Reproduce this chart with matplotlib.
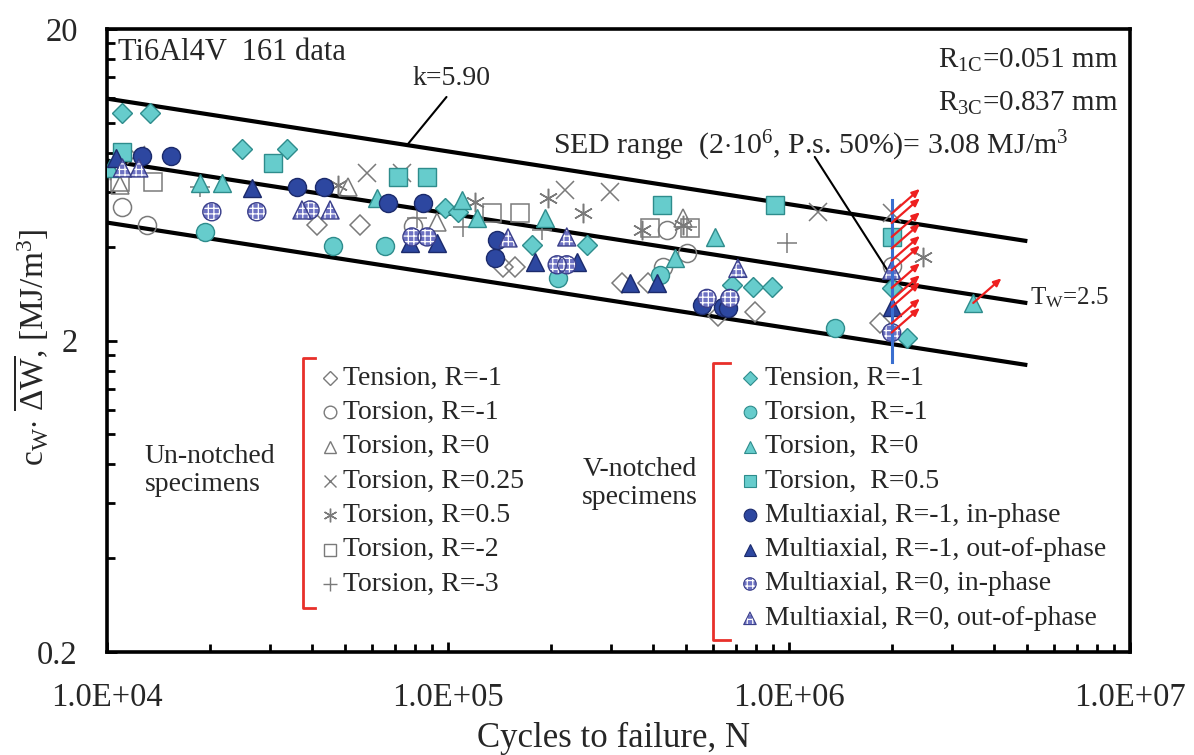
import numpy as np
import matplotlib
matplotlib.use('Agg')
import matplotlib.pyplot as plt
from matplotlib.ticker import FuncFormatter, FixedLocator, LogLocator, NullFormatter

plt.rcParams['font.family'] = ['Liberation Serif', 'DejaVu Serif']
plt.rcParams['mathtext.fontset'] = 'custom'
plt.rcParams['mathtext.rm'] = 'Liberation Serif'
plt.rcParams['mathtext.it'] = 'Liberation Serif:italic'
plt.rcParams['mathtext.bf'] = 'Liberation Serif:bold'
plt.rcParams['hatch.linewidth'] = 0.9

TXT = '#262626'

# ---- un-notched specimens (open grey symbols) ----
un_tens_m1_N = [4.13e4, 5.52e4, 1.45e5, 1.57e5, 3.24e5, 3.86e5, 6.19e5, 7.95e5, 1.85e6]
un_tens_m1_W = [4.69, 4.69, 3.44, 3.44, 3.06, 3.06, 2.40, 2.47, 2.27]
un_tors_m1_N = [1.11e4, 1.31e4, 7.9e4, 4.39e5, 5.02e5, 4.27e5, 2.0e6]
un_tors_m1_W = [5.37, 4.69, 4.67, 4.53, 3.82, 3.44, 3.47]
un_tors_0_N = [1.09e4, 5.09e4, 9.29e4, 4.89e5]
un_tors_0_W = [6.31, 6.23, 4.80, 4.94]
un_tors_025_N = [1.22e4, 5.79e4, 7.33e4, 2.2e5, 2.99e5, 1.22e6, 2.0e6]
un_tors_025_W = [7.88, 6.90, 6.90, 6.08, 5.99, 5.18, 5.13]
un_tors_05_N = [1.02e4, 4.76e4, 1.2e5, 1.96e5, 2.49e5, 3.71e5, 4.89e5, 2.47e6]
un_tors_05_W = [7.03, 6.31, 5.57, 5.72, 5.13, 4.53, 4.69, 3.71]
un_tors_m2_N = [1.09e4, 1.36e4, 1.35e5, 1.63e5, 3.91e5, 5.13e5]
un_tors_m2_W = [6.46, 6.46, 5.13, 5.13, 4.60, 4.60]
un_tors_m3_N = [1.87e4, 8.11e4, 1.11e5, 1.89e5, 5.02e5, 9.87e5]
un_tors_m3_W = [6.23, 4.94, 4.63, 4.53, 4.63, 4.11]

# ---- V-notched specimens ----
v_tens_m1_N = [1.11e4, 1.34e4, 2.49e4, 3.37e4, 9.8e4, 1.07e5, 1.76e5, 2.56e5,
               6.8e5, 7.84e5, 8.92e5, 2.0e6, 2.22e6]
v_tens_m1_W = [10.75, 10.75, 8.24, 8.24, 5.32, 5.18, 4.06, 4.06, 3.02, 2.97, 2.97, 2.95, 2.03]
v_tors_m1_N = [1.94e4, 4.6e4, 6.53e4, 2.1e5, 4.19e5, 1.36e6]
v_tors_m1_W = [4.46, 4.02, 4.02, 3.18, 3.25, 2.20]
v_tors_0_N = [1.02e4, 1.87e4, 2.17e4, 6.19e4, 1.1e5, 1.22e5, 1.92e5, 4.63e5, 6.07e5, 3.47e6]
v_tors_0_W = [7.16, 6.41, 6.41, 5.72, 5.65, 4.94, 4.94, 3.68, 4.30, 2.64]
v_tors_05_N = [1.11e4, 3.07e4, 7.13e4, 8.68e4, 4.24e5, 9.1e5, 2.0e6]
v_tors_05_W = [8.06, 7.43, 6.70, 6.70, 5.44, 5.44, 4.30]
mx_m1_in_N = [1.27e4, 1.54e4, 3.61e4, 4.33e4, 6.67e4, 8.45e4, 1.39e5, 1.37e5, 5.56e5, 6.4e5, 6.62e5]
mx_m1_in_W = [7.82, 7.82, 6.23, 6.23, 5.52, 5.52, 4.21, 3.68, 2.60, 2.56, 2.54]
mx_m1_out_N = [1.06e4, 2.66e4, 7.74e4, 9.29e4, 1.8e5, 2.39e5, 3.42e5, 4.1e5, 2.0e6]
mx_m1_out_W = [7.71, 6.18, 4.11, 4.11, 3.58, 3.58, 3.06, 3.06, 2.56]
mx_0_in_N = [2.03e4, 2.75e4, 3.94e4, 7.84e4, 8.68e4, 2.09e5, 2.23e5, 5.75e5, 6.71e5, 2.0e6]
mx_0_in_W = [5.18, 5.18, 5.25, 4.30, 4.30, 3.50, 3.50, 2.73, 2.73, 2.12]
mx_0_out_N = [1.11e4, 1.24e4, 3.73e4, 4.51e4, 1.5e5, 2.23e5, 7.08e5, 2.0e6]
mx_0_out_W = [7.16, 7.16, 5.25, 5.25, 4.27, 4.30, 3.41, 3.36]

# run-outs (arrows)
runout_N = [2.0e6] * 11 + [3.47e6]
runout_W = [5.11, 4.77, 4.30, 3.95, 3.61, 3.36, 2.95, 2.70, 2.56, 2.27, 2.12, 2.64]

# scatter band
k_slope = 5.90
W_50 = 3.08       # MJ/m3 at N_A
N_A = 2e6
T_W = 2.5
band_N = np.array([1e4, 5e6])

CYAN, CYAN_E = '#66CCCC', '#2E8C8C'
NAVY, NAVY_E = '#2D47A0', '#1B2A6B'
PAT, PAT_E = '#6D72C2', '#3A3F8A'
GREY = '#7A7A7A'

fig = plt.figure(figsize=(11.94, 7.55), dpi=100)
ax = fig.add_axes([0.0896, 0.1364, 0.8568, 0.8252])
ax.set_xscale('log')
ax.set_yscale('log')
ax.set_xlim(1e4, 1e7)
ax.set_ylim(0.2, 20)

# band lines
W_mid = W_50 * (band_N / N_A) ** (-1.0 / k_slope)
for f in (np.sqrt(T_W), 1.0, 1.0 / np.sqrt(T_W)):
    ax.plot(band_N, W_mid * f, color='black', lw=3.0, zorder=2, solid_capstyle='butt')

# open symbols
open_series = [
    (un_tens_m1_N, un_tens_m1_W, 'D', 10.5),
    (un_tors_m1_N, un_tors_m1_W, 'o', 13),
    (un_tors_0_N, un_tors_0_W, '^', 13),
    (un_tors_025_N, un_tors_025_W, 'x', 13),
    (un_tors_05_N, un_tors_05_W, (6, 2, 0), 14),
    (un_tors_m2_N, un_tors_m2_W, 's', 12.5),
    (un_tors_m3_N, un_tors_m3_W, '+', 14),
]
for n, w, m, ms in open_series:
    ax.plot(n, w, ls='none', marker=m, ms=ms, mfc='none', mec=GREY, mew=1.1, zorder=3)

# filled symbols
filled_series = [
    (v_tens_m1_N, v_tens_m1_W, 'D', 10.5, CYAN, CYAN_E),
    (v_tors_m1_N, v_tors_m1_W, 'o', 13, CYAN, CYAN_E),
    (v_tors_0_N, v_tors_0_W, '^', 13, CYAN, CYAN_E),
    (v_tors_05_N, v_tors_05_W, 's', 12.5, CYAN, CYAN_E),
    (mx_m1_in_N, mx_m1_in_W, 'o', 13, NAVY, NAVY_E),
    (mx_m1_out_N, mx_m1_out_W, '^', 13, NAVY, NAVY_E),
]
for n, w, m, ms, fc, ec in filled_series:
    ax.plot(n, w, ls='none', marker=m, ms=ms, mfc=fc, mec=ec, mew=1.0, zorder=4)

# hatched symbols (multiaxial R=0)
for n, w, m in ((mx_0_in_N, mx_0_in_W, 'o'), (mx_0_out_N, mx_0_out_W, '^')):
    ax.scatter(n, w, s=13 ** 2, marker=m, facecolor=PAT, edgecolor='white',
               hatch='+++', linewidths=0, zorder=5)
    ax.scatter(n, w, s=13 ** 2, marker=m, facecolor='none', edgecolor=PAT_E,
               linewidths=1.0, zorder=5)

# N = 2e6 marker line and run-out arrows
ax.plot([N_A, N_A], [1.71, 5.65], color='#3A6FD0', lw=2.2, zorder=6)
for n, w in zip(runout_N, runout_W):
    ax.annotate('', xy=(n * 1.21, w * 1.20), xytext=(n, w),
                arrowprops=dict(arrowstyle='-|>,head_length=0.45,head_width=0.2',
                                color='#EE2020', lw=1.6, shrinkA=0, shrinkB=0),
                zorder=7)

# annotations
ax.annotate('', xy=(7.6e4, 8.5), xytext=(9.9e4, 12.1),
            arrowprops=dict(arrowstyle='-', lw=1.5, color='black', shrinkA=0, shrinkB=0))
ax.text(0.3372, 0.920, 'k=5.90', transform=ax.transAxes, fontsize=20, color=TXT,
        ha='center', va='center')
ax.annotate('', xy=(N_A, 3.2), xytext=(1.19e6, 7.77),
            arrowprops=dict(arrowstyle='-', lw=1.5, color='black', shrinkA=0, shrinkB=0))
ax.text(0.436, 0.813, r'SED range  (2$\cdot$10$^{6}$, P.s. 50%)= 3.08 MJ/m$^{3}$',
        transform=ax.transAxes, fontsize=21.5, color=TXT, ha='left', va='center')
ax.text(0.902, 0.568, r'T$_\mathrm{W}$=2.5', transform=ax.transAxes, fontsize=18,
        color=TXT, ha='left', va='center')
ax.text(0.0108, 0.963, 'Ti6Al4V  161 data', transform=ax.transAxes, fontsize=22,
        color=TXT, ha='left', va='center')
ax.text(0.988, 0.950, r'R$_\mathrm{1C}$=0.051 mm', transform=ax.transAxes, fontsize=21,
        color=TXT, ha='right', va='center')
ax.text(0.988, 0.881, r'R$_\mathrm{3C}$=0.837 mm', transform=ax.transAxes, fontsize=21,
        color=TXT, ha='right', va='center')

# legend blocks
un_labels = ['Tension, R=-1', 'Torsion, R=-1', 'Torsion, R=0', 'Torsion, R=0.25',
             'Torsion, R=0.5', 'Torsion, R=-2', 'Torsion, R=-3']
v_labels = ['Tension, R=-1', 'Torsion,  R=-1', 'Torsion,  R=0', 'Torsion,  R=0.5',
            'Multiaxial, R=-1, in-phase', 'Multiaxial, R=-1, out-of-phase',
            'Multiaxial, R=0, in-phase', 'Multiaxial, R=0, out-of-phase']
row0, step = 0.4398, 0.0551

for i, (lab, (_, _, m, ms)) in enumerate(zip(un_labels, open_series)):
    yy = row0 - i * step
    ax.plot([0.218], [yy], transform=ax.transAxes, ls='none', marker=m, ms=ms * 0.7,
            mfc='none', mec=GREY, mew=1.0, clip_on=False)
    ax.text(0.2307, yy, lab, transform=ax.transAxes, fontsize=20, color=TXT,
            ha='left', va='center')

v_styles = [(s[2], s[3], s[4], s[5]) for s in filled_series]
for i, lab in enumerate(v_labels):
    yy = row0 - i * step
    if i < 6:
        m, ms, fc, ec = v_styles[i]
        ax.plot([0.6285], [yy], transform=ax.transAxes, ls='none', marker=m, ms=ms * 0.7,
                mfc=fc, mec=ec, mew=0.8, clip_on=False)
    else:
        m = 'o' if i == 6 else '^'
        ax.scatter([0.6285], [yy], transform=ax.transAxes, s=9 ** 2, marker=m,
                   facecolor=PAT, edgecolor='white', hatch='+++', linewidths=0)
        ax.scatter([0.6285], [yy], transform=ax.transAxes, s=9 ** 2, marker=m,
                   facecolor='none', edgecolor=PAT_E, linewidths=0.8)
    ax.text(0.643, yy, lab, transform=ax.transAxes, fontsize=20, color=TXT,
            ha='left', va='center')

# red brackets
RED = '#E8302A'
for x0, x1, y0, y1 in ((0.1916, 0.2033, 0.0706, 0.4719), (0.5924, 0.609, 0.0193, 0.4639)):
    ax.plot([x1, x0, x0, x1], [y1, y1, y0, y0], transform=ax.transAxes, color=RED, lw=2.0)

ax.text(0.037, 0.292, 'Un-notched\nspecimens', transform=ax.transAxes, fontsize=20,
        color=TXT, ha='left', va='center', linespacing=1.15)
ax.text(0.521, 0.271, 'V-notched\nspecimens', transform=ax.transAxes, fontsize=20,
        color=TXT, ha='center', va='center', linespacing=1.15)

# axes styling
for sp in ax.spines.values():
    sp.set_linewidth(2.6)
    sp.set_color('black')
ax.xaxis.set_major_locator(LogLocator(base=10, numticks=10))
ax.xaxis.set_minor_locator(LogLocator(base=10, subs=np.arange(2, 10), numticks=10))
y_major = [0.2, 2, 20]
y_minor = [d * k for d in (0.2, 2) for k in range(2, 10)]
ax.yaxis.set_major_locator(FixedLocator(y_major))
ax.yaxis.set_minor_locator(FixedLocator(y_minor))
ax.xaxis.set_major_formatter(FuncFormatter(lambda v, p: f'{v:.1E}'))
ax.yaxis.set_major_formatter(FuncFormatter(lambda v, p: f'{v:g}'))
ax.xaxis.set_minor_formatter(NullFormatter())
ax.yaxis.set_minor_formatter(NullFormatter())
ax.tick_params(which='both', direction='in', top=False, right=False, width=2.0,
               colors='black', labelcolor=TXT, labelsize=23.5)
ax.tick_params(which='major', length=7)
ax.tick_params(which='minor', length=6)
ax.tick_params(axis='x', pad=22)
ax.tick_params(axis='y', pad=21)

ax.set_xlabel('Cycles to failure, N', fontsize=25, color=TXT)
ax.xaxis.set_label_coords(0.495, -0.112)
ax.set_ylabel(r'c$_\mathrm{W}$$\cdot$ $\overline{\Delta \mathrm{W}}$, [MJ/m$^{3}$]',
              fontsize=24, color=TXT)
ax.yaxis.set_label_coords(-0.056, 0.49)

fig.savefig('out.png', dpi=100)
